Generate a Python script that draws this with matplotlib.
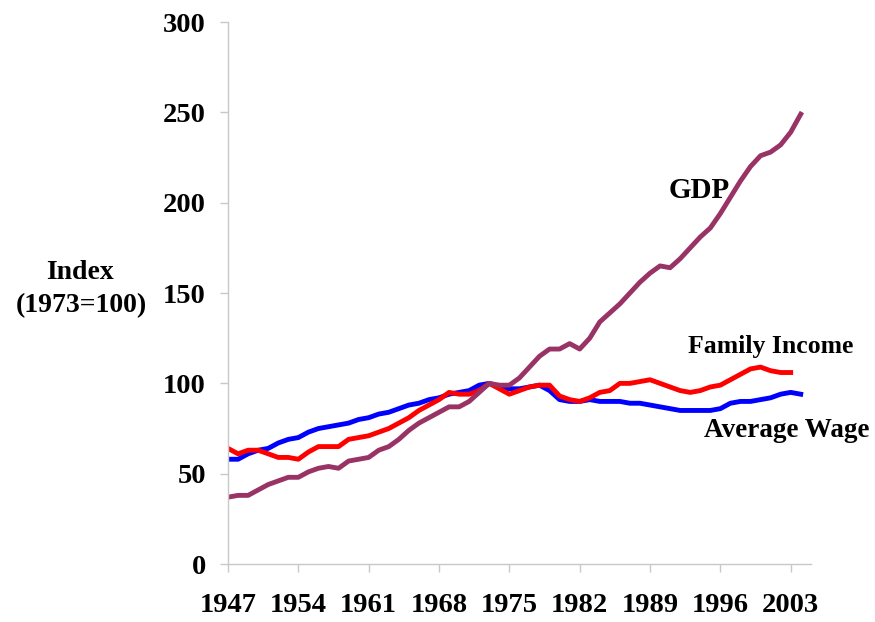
import numpy as np
import matplotlib.pyplot as plt

years = list(range(1947, 2005))

gdp = [37, 38, 38, 41, 44, 46, 48, 48, 51, 53,
       54, 53, 57, 58, 59, 63, 65, 69, 74, 78,
       81, 84, 87, 87, 90, 95, 100, 99, 99, 103,
       109, 115, 119, 119, 122, 119, 125, 134, 139, 144,
       150, 156, 161, 165, 164, 169, 175, 181, 186, 194,
       203, 212, 220, 226, 228, 232, 239, 249]

family_income = [64, 61, 63, 63, 61, 59, 59, 58, 62, 65,
                 65, 65, 69, 70, 71, 73, 75, 78, 81, 85,
                 88, 91, 95, 94, 94, 96, 100, 97, 94, 96,
                 98, 99, 99, 93, 91, 90, 92, 95, 96, 100,
                 100, 101, 102, 100, 98, 96, 95, 96, 98, 99,
                 102, 105, 108, 109, 107, 106, 106, np.nan]

average_wage = [58, 58, 61, 63, 64, 67, 69, 70, 73, 75,
                76, 77, 78, 80, 81, 83, 84, 86, 88, 89,
                91, 92, 94, 95, 96, 99, 100, 98, 97, 97,
                98, 99, 96, 91, 90, 90, 91, 90, 90, 90,
                89, 89, 88, 87, 86, 85, 85, 85, 85, 86,
                89, 90, 90, 91, 92, 94, 95, 94]

tick_years = list(range(1947, 2004, 7))

plt.rcParams['font.family'] = ['Liberation Serif', 'DejaVu Serif']
plt.rcParams['font.weight'] = 'bold'

fig = plt.figure(figsize=(8.75, 6.22), dpi=100)
ax = fig.add_axes([0.2606, 0.0932, 0.666, 0.8714])

ax.plot(years, average_wage, color='#0000ff', lw=3.5, solid_joinstyle='round')
ax.plot(years, family_income, color='#ff0000', lw=3.5, solid_joinstyle='round')
ax.plot(years, gdp, color='#993366', lw=3.5, solid_joinstyle='round')

ax.set_xlim(1947, 2005)
ax.set_ylim(0, 300)
ax.set_xticks(tick_years)
ax.set_yticks(range(0, 301, 50))

for s in ['top', 'right']:
    ax.spines[s].set_visible(False)
for s in ['left', 'bottom']:
    ax.spines[s].set_color('#c8c8c8')
    ax.spines[s].set_linewidth(1)

ax.tick_params(axis='both', colors='#c8c8c8', labelcolor='black',
               labelsize=20.5, length=6, width=1)
ax.tick_params(axis='x', pad=15)
ax.tick_params(axis='y', pad=10)

fig.text(80 / 875, 1 - 273 / 622, 'Index', ha='center', va='center', fontsize=20)
fig.text(81 / 875, 1 - 306 / 622, '(1973=100)', ha='center', va='center', fontsize=20)

ax.text(1993.9, 207, 'GDP', ha='center', va='center', fontsize=21)
ax.text(2001.0, 120.5, 'Family Income', ha='center', va='center', fontsize=18.5)
ax.text(2002.6, 74, 'Average Wage', ha='center', va='center', fontsize=19.5)

fig.savefig('out.png', dpi=100)
